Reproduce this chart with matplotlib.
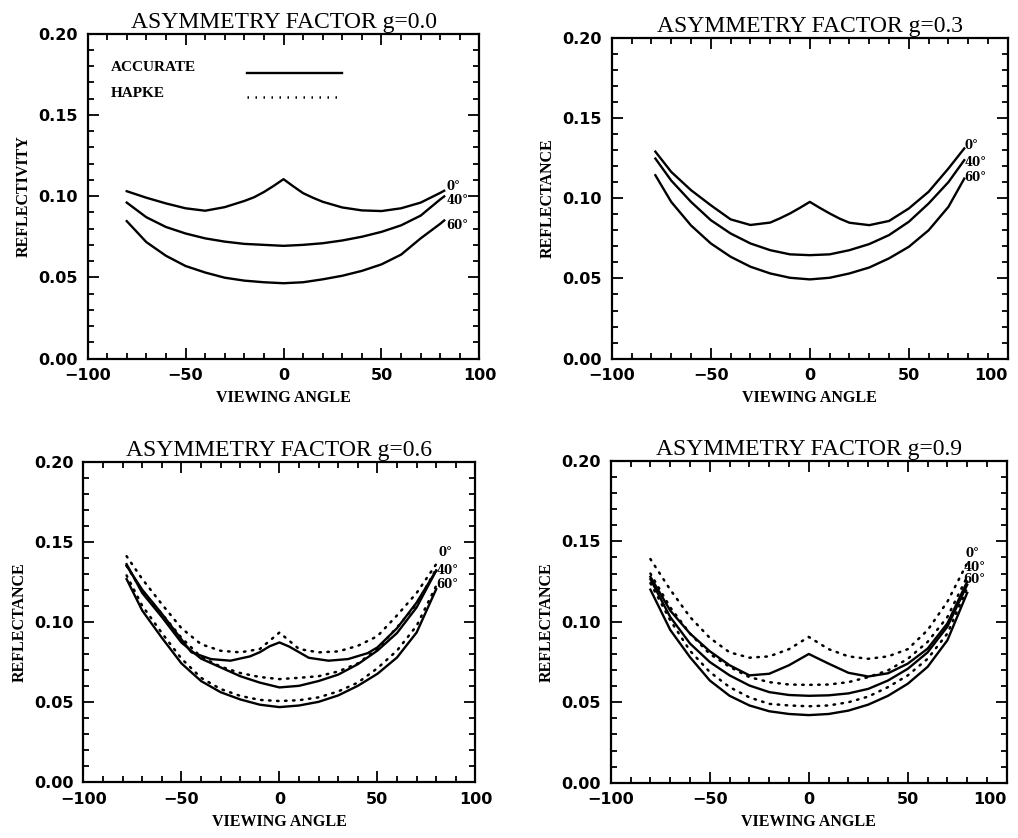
import numpy as np
import matplotlib.pyplot as plt
from matplotlib.ticker import MultipleLocator

# viewing angles (deg) sampled along each curve
ang_a = [-80, -70, -60, -50, -40, -30, -20, -10, 0, 10, 20, 30, 40, 50, 60, 70, 80, 82]
ang_a0 = [-80, -70, -60, -50, -40, -30, -20, -15, -10, -5, 0, 5, 10, 15, 20, 30, 40, 50, 60, 70, 80, 82]
ang_b = [-78, -70, -60, -50, -40, -30, -20, -10, 0, 10, 20, 30, 40, 50, 60, 70, 78]
ang_b0 = [-78, -70, -60, -50, -40, -30, -20, -15, -10, -5, 0, 5, 10, 15, 20, 30, 40, 50, 60, 70, 78]
ang_c = [-78, -70, -60, -50, -40, -30, -20, -10, 0, 10, 20, 30, 40, 50, 60, 70, 80]
ang_c0 = [-78, -70, -60, -50, -45, -35, -25, -15, -10, -5, 0, 5, 10, 15, 25, 35, 45, 50, 60, 70, 80]
ang_d = [-80, -70, -60, -50, -40, -30, -20, -10, 0, 10, 20, 30, 40, 50, 60, 70, 80]

# g = 0.0 (accurate; Hapke coincides)
g00_0 = [0.103, 0.099, 0.0955, 0.0925, 0.091, 0.0932, 0.097, 0.0993, 0.1025, 0.1063, 0.1104, 0.106, 0.1018, 0.099, 0.0965, 0.093, 0.0912, 0.0908, 0.0925, 0.096, 0.102, 0.1033]
g00_40 = [0.096, 0.087, 0.081, 0.077, 0.074, 0.072, 0.0706, 0.070, 0.0694, 0.070, 0.071, 0.0727, 0.075, 0.078, 0.082, 0.088, 0.098, 0.0998]
g00_60 = [0.0846, 0.0717, 0.0633, 0.057, 0.053, 0.0498, 0.048, 0.047, 0.0464, 0.0470, 0.0488, 0.051, 0.054, 0.058, 0.064, 0.074, 0.083, 0.085]

# g = 0.3 (accurate; Hapke coincides)
g03_0 = [0.129, 0.1164, 0.105, 0.0956, 0.0868, 0.0833, 0.0848, 0.0875, 0.0905, 0.094, 0.0977, 0.094, 0.0905, 0.0873, 0.0847, 0.0832, 0.0858, 0.0936, 0.104, 0.1185, 0.131]
g03_40 = [0.1247, 0.111, 0.0977, 0.0863, 0.078, 0.0718, 0.0676, 0.065, 0.0645, 0.065, 0.0676, 0.0714, 0.077, 0.0853, 0.0967, 0.110, 0.1237]
g03_60 = [0.1143, 0.0977, 0.083, 0.0718, 0.0635, 0.0573, 0.0531, 0.0504, 0.0494, 0.0504, 0.0531, 0.0568, 0.0625, 0.0697, 0.080, 0.0946, 0.1122]

# g = 0.6
g06_0 = [0.135, 0.120, 0.105, 0.089, 0.081, 0.0767, 0.0757, 0.0784, 0.081, 0.0847, 0.0871, 0.0845, 0.081, 0.0775, 0.0757, 0.0767, 0.0804, 0.084, 0.096, 0.112, 0.132]
g06_40 = [0.136, 0.118, 0.103, 0.087, 0.077, 0.0715, 0.066, 0.062, 0.059, 0.060, 0.063, 0.067, 0.0735, 0.082, 0.093, 0.109, 0.132]
g06_60 = [0.1267, 0.107, 0.090, 0.074, 0.063, 0.056, 0.0515, 0.0482, 0.0467, 0.0477, 0.0500, 0.054, 0.060, 0.0675, 0.0777, 0.0933, 0.1204]
g06_0h = [0.141, 0.1267, 0.111, 0.096, 0.086, 0.0819, 0.0809, 0.083, 0.0933, 0.083, 0.0809, 0.0815, 0.085, 0.091, 0.104, 0.118, 0.136]
g06_40h = [0.135, 0.119, 0.105, 0.090, 0.078, 0.072, 0.068, 0.0655, 0.0642, 0.065, 0.066, 0.069, 0.0740, 0.083, 0.0965, 0.111, 0.133]
g06_60h = [0.129, 0.110, 0.093, 0.077, 0.065, 0.058, 0.0537, 0.0512, 0.0505, 0.0510, 0.0528, 0.0565, 0.062, 0.0710, 0.082, 0.0975, 0.1225]

# g = 0.9
g09_0 = [0.128, 0.107, 0.0927, 0.0817, 0.073, 0.0667, 0.0677, 0.073, 0.0800, 0.074, 0.0683, 0.0660, 0.0680, 0.074, 0.0833, 0.099, 0.125]
g09_40 = [0.1265, 0.103, 0.0865, 0.075, 0.0667, 0.0604, 0.0563, 0.0545, 0.0540, 0.0543, 0.0555, 0.0583, 0.0635, 0.0708, 0.081, 0.097, 0.123]
g09_60 = [0.120, 0.095, 0.078, 0.0635, 0.054, 0.048, 0.0444, 0.0427, 0.0420, 0.0427, 0.0448, 0.0485, 0.054, 0.0615, 0.072, 0.0885, 0.118]
g09_0h = [0.139, 0.120, 0.103, 0.0900, 0.081, 0.0777, 0.0785, 0.083, 0.0906, 0.083, 0.0785, 0.077, 0.0785, 0.083, 0.0948, 0.1125, 0.1365]
g09_40h = [0.130, 0.109, 0.0927, 0.080, 0.072, 0.0656, 0.0625, 0.061, 0.0608, 0.061, 0.0625, 0.0656, 0.0698, 0.077, 0.0875, 0.103, 0.128]
g09_60h = [0.124, 0.101, 0.082, 0.0688, 0.0594, 0.053, 0.049, 0.048, 0.0475, 0.048, 0.050, 0.0535, 0.0594, 0.0667, 0.077, 0.0927, 0.121]

angle_labels = ["0°", "40°", "60°"]

panels = [
    dict(g="0.0", ylabel="REFLECTIVITY",
         acc=[(ang_a0, g00_0), (ang_a, g00_40), (ang_a, g00_60)], hap=None,
         lab_xy=[(83, 0.106), (83, 0.0975), (83, 0.082)], rect=[0.086, 0.572, 0.385, 0.388]),
    dict(g="0.3", ylabel="REFLECTANCE",
         acc=[(ang_b0, g03_0), (ang_b, g03_40), (ang_b, g03_60)], hap=None,
         lab_xy=[(78, 0.133), (78, 0.1225), (78, 0.113)], rect=[0.601, 0.572, 0.389, 0.383]),
    dict(g="0.6", ylabel="REFLECTANCE",
         acc=[(ang_c0, g06_0), (ang_c, g06_40), (ang_c, g06_60)],
         hap=[(ang_c, g06_0h), (ang_c, g06_40h), (ang_c, g06_60h)],
         lab_xy=[(81, 0.143), (80, 0.132), (80, 0.1235)], rect=[0.082, 0.067, 0.385, 0.382]),
    dict(g="0.9", ylabel="REFLECTANCE",
         acc=[(ang_d, g09_0), (ang_d, g09_40), (ang_d, g09_60)],
         hap=[(ang_d, g09_0h), (ang_d, g09_40h), (ang_d, g09_60h)],
         lab_xy=[(79, 0.1427), (78, 0.134), (78, 0.126)], rect=[0.600, 0.066, 0.389, 0.384]),
]

dots = (0, (0.6, 2.6))

fig = plt.figure(figsize=(10.18, 8.38), dpi=100)

for i, p in enumerate(panels):
    ax = fig.add_axes(p["rect"])
    for xs, ys in p["acc"]:
        ax.plot(xs, ys, color="black", lw=1.7, solid_joinstyle="round")
    if p["hap"] is not None:
        for xs, ys in p["hap"]:
            ax.plot(xs, ys, color="black", lw=1.8, linestyle=dots, dash_capstyle="round")
    for lab, (lx, ly) in zip(angle_labels, p["lab_xy"]):
        ax.text(lx, ly, lab, fontsize=8.5, fontweight="bold", family="DejaVu Serif", va="center", ha="left")

    ax.set_xlim(-100, 100)
    ax.set_ylim(0, 0.2)
    ax.xaxis.set_major_locator(MultipleLocator(50))
    ax.xaxis.set_minor_locator(MultipleLocator(10))
    ax.yaxis.set_major_locator(MultipleLocator(0.05))
    ax.yaxis.set_minor_locator(MultipleLocator(0.01))
    ax.yaxis.set_major_formatter(plt.FormatStrFormatter("%.2f"))
    ax.tick_params(which="both", direction="in", top=True, right=True, width=1.3)
    ax.tick_params(which="major", length=8, labelsize=11.5, pad=7)
    ax.tick_params(which="minor", length=4)
    fig.canvas.draw()
    xl = ax.get_xticklabels()
    for lbl in xl + ax.get_yticklabels():
        lbl.set_fontweight("bold")
    if i in (1, 3):
        # keep the last label inside the figure, as in the scan
        for lbl in xl:
            if lbl.get_text() == "100":
                lbl.set_horizontalalignment("right")
                lbl.set_x(104)
    for s in ax.spines.values():
        s.set_linewidth(1.6)

    ax.set_title("ASYMMETRY FACTOR g=" + p["g"], fontsize=17, family="Liberation Serif", pad=4)
    ax.set_xlabel("VIEWING ANGLE", fontsize=11.5, family="Liberation Serif", fontweight="bold", labelpad=5)
    ax.set_ylabel(p["ylabel"], fontsize=11.5, family="Liberation Serif", fontweight="bold", labelpad=5)

    if i == 0:
        ax.text(-88, 0.179, "ACCURATE", fontsize=11, family="Liberation Serif", fontweight="bold", va="center")
        ax.text(-88, 0.163, "HAPKE", fontsize=11, family="Liberation Serif", fontweight="bold", va="center")
        ax.plot([-18.5, 30], [0.176, 0.176], color="black", lw=1.7)
        ax.plot([-18.5, 30], [0.161, 0.161], color="black", lw=1.8, linestyle=dots)

fig.savefig("out.png", dpi=100)
